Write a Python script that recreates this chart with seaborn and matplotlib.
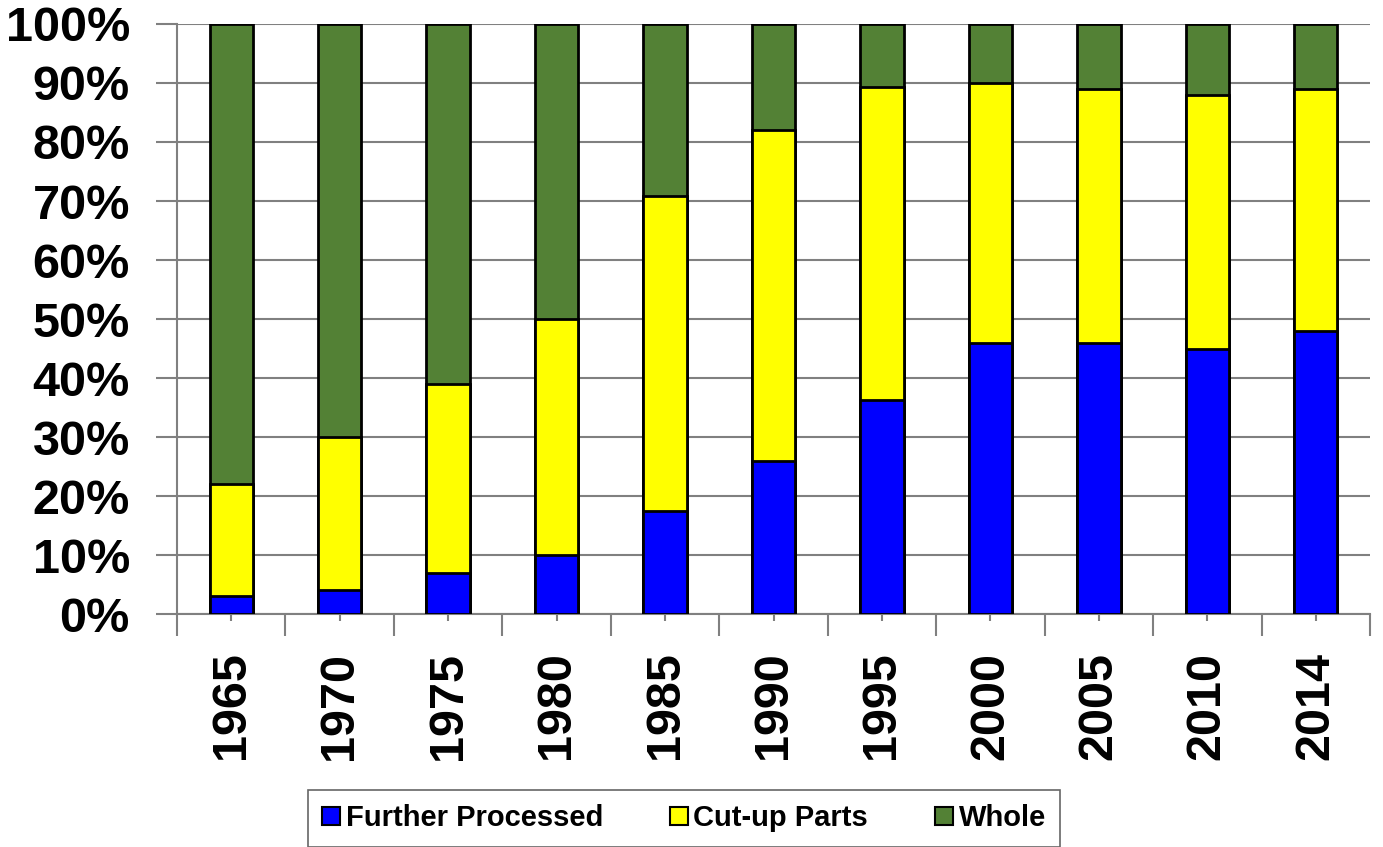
import numpy as np
import pandas as pd
import seaborn as sns
import matplotlib.pyplot as plt
from matplotlib.patches import Patch
from matplotlib.ticker import FixedLocator, PercentFormatter

sns.set_theme(style="white")
plt.rcParams['font.family'] = ['Liberation Sans', 'DejaVu Sans']
plt.rcParams['text.color'] = 'black'

years = ["1965", "1970", "1975", "1980", "1985", "1990", "1995", "2000", "2005", "2010", "2014"]
furtherProcessed = [3, 4, 7, 10, 17.5, 26, 36.3, 46, 46, 45, 48]
cutUpParts = [19, 26, 32, 40, 53.3, 56, 53, 44, 43, 43, 41]
whole = [100 - f - c for f, c in zip(furtherProcessed, cutUpParts)]

colors = {'Further Processed': '#0000FF', 'Cut-up Parts': '#FFFF00', 'Whole': '#538135'}

df = pd.DataFrame({'Year': years,
                   'Further Processed': furtherProcessed,
                   'Cut-up Parts': cutUpParts,
                   'Whole': whole})
# cumulative tops for stacking
df['top1'] = df['Further Processed']
df['top2'] = df['top1'] + df['Cut-up Parts']
df['top3'] = df['top2'] + df['Whole']

fig = plt.figure(figsize=(13.83, 8.47), dpi=100)
ax = fig.add_axes([0.128, 0.275, 0.8626, 0.6967])

for col, name in [('top3', 'Whole'), ('top2', 'Cut-up Parts'), ('top1', 'Further Processed')]:
    sns.barplot(ax=ax, data=df, x='Year', y=col, color=colors[name], width=0.4,
                edgecolor='black', linewidth=2, saturation=1, zorder=3)

ax.set(xlabel='', ylabel='', ylim=(0, 100), xlim=(-0.5, len(years) - 0.5))
ax.yaxis.set_major_locator(FixedLocator(np.arange(0, 101, 10)))
ax.yaxis.set_major_formatter(PercentFormatter(decimals=0))
ax.grid(axis='y', color='#808080', linewidth=1.5, zorder=0)
ax.set_axisbelow(True)
for s in ['top', 'right']:
    ax.spines[s].set_visible(False)
ax.spines['left'].set_color('#808080')
ax.spines['left'].set_linewidth(1.5)
ax.spines['bottom'].set_color('#808080')
ax.spines['bottom'].set_linewidth(1.5)

ax.tick_params(axis='y', labelsize=35, labelcolor='black', length=15, width=1.5,
               color='#808080', pad=19, left=True)
ax.tick_params(axis='x', labelsize=35, labelcolor='black', length=5, width=1.5,
               color='#808080', rotation=90, bottom=True, pad=22)
ax.xaxis.set_minor_locator(FixedLocator(np.arange(-0.5, len(years), 1)))
ax.tick_params(axis='x', which='minor', length=16, width=1.5, color='#808080', bottom=True)
for lbl in ax.get_xticklabels() + ax.get_yticklabels():
    lbl.set_fontweight('bold')

handles = [Patch(facecolor=colors[n], edgecolor='black', linewidth=1.5, label=n)
           for n in ['Further Processed', 'Cut-up Parts', 'Whole']]
leg = fig.legend(handles=handles, loc='center', bbox_to_anchor=(0.4946, 0.034),
                 ncol=3, frameon=True, fancybox=False, edgecolor='#404040',
                 prop={'size': 21, 'weight': 'bold'}, handlelength=0.6, handleheight=0.6,
                 handletextpad=0.2, columnspacing=2.3, borderpad=0.5)
leg.get_frame().set_linewidth(1.2)

plt.savefig("out.png", dpi=100)
